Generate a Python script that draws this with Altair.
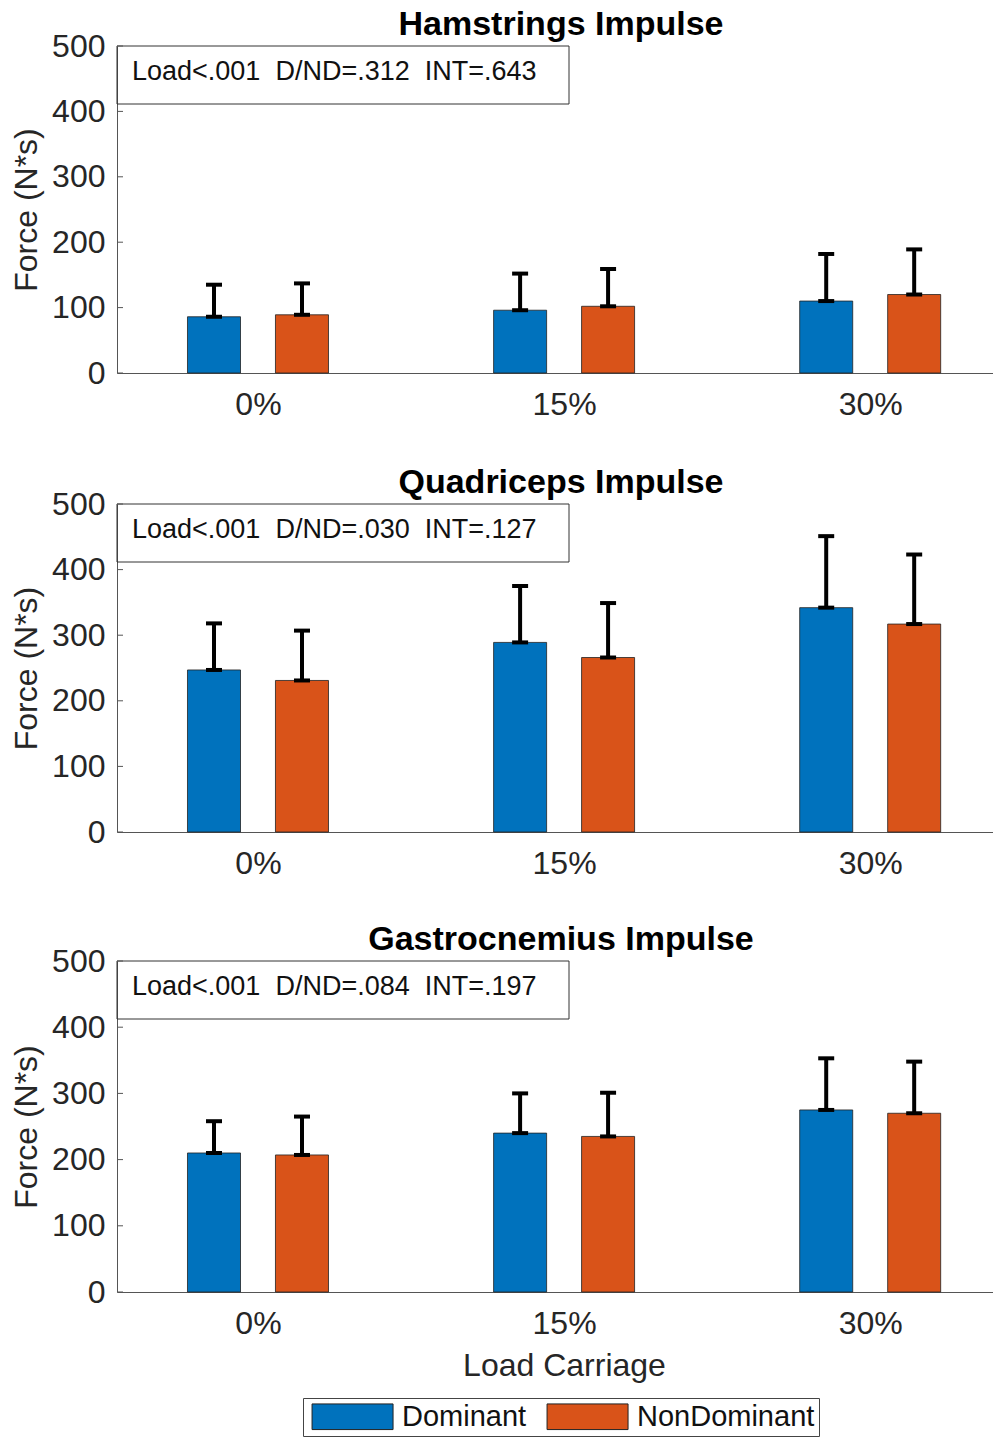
import altair as alt
import pandas as pd

FONT = "Liberation Sans"
NB = "\u00a0"

LOADS = ["0%", "15%", "30%"]
SIDES = ["Dominant", "NonDominant"]
COLORS = ["#0072BD", "#D95319"]
TITLES = ["Hamstrings Impulse", "Quadriceps Impulse", "Gastrocnemius Impulse"]
STATS = [
    f"Load<.001{NB} D/ND=.312{NB} INT=.643",
    f"Load<.001{NB} D/ND=.030{NB} INT=.127",
    f"Load<.001{NB} D/ND=.084{NB} INT=.197",
]
Y_TICKS = [0, 100, 200, 300, 400, 500]

# Hamstrings
ham_dom = [86, 96, 110]
ham_dom_sd = [49, 56, 72]
ham_nd = [89, 102, 120]
ham_nd_sd = [48, 57, 69]
# Quadriceps
quad_dom = [247, 289, 342]
quad_dom_sd = [71, 86, 109]
quad_nd = [231, 266, 317]
quad_nd_sd = [76, 83, 106]
# Gastrocnemius
gas_dom = [210, 240, 275]
gas_dom_sd = [48, 60, 78]
gas_nd = [207, 235, 270]
gas_nd_sd = [58, 66, 78]


def panel_df(dom, dom_sd, nd, nd_sd):
    rows = []
    for i, load in enumerate(LOADS):
        rows.append({"g": i + 1, "load": load, "side": SIDES[0], "mean": dom[i], "sd": dom_sd[i]})
        rows.append({"g": i + 1, "load": load, "side": SIDES[1], "mean": nd[i], "sd": nd_sd[i]})
    return pd.DataFrame(rows)


PANELS = [
    panel_df(ham_dom, ham_dom_sd, ham_nd, ham_nd_sd),
    panel_df(quad_dom, quad_dom_sd, quad_nd, quad_nd_sd),
    panel_df(gas_dom, gas_dom_sd, gas_nd, gas_nd_sd),
]

xs = alt.Scale(domain=[0.5394, 3.4012], nice=False, zero=False)
ys = alt.Scale(domain=[0, 500], nice=False, zero=True)

label_expr = " : ".join(
    [f"datum.value == {i + 1} ? '{lab}'" for i, lab in enumerate(LOADS[:-1])] + [f"'{LOADS[-1]}'"]
)

W = 876
HEIGHTS = [327, 328, 331]


def make_panel(k, df, last):
    base = alt.Chart(df).transform_calculate(
        xc=f"datum.g + (datum.side == '{SIDES[0]}' ? -0.1437 : 0.1437)"
    ).transform_calculate(
        xl="datum.xc - 0.0866", xr="datum.xc + 0.0866", top="datum.mean + datum.sd", zero="0"
    )

    xaxis_kw = dict(values=[1, 2, 3], labelExpr=label_expr, grid=False, ticks=False,
                    labelFontSize=32, labelPadding=16, labelFlush=False, labelOverlap=False,
                    domainColor="#555", labelColor="#262626", labelFont=FONT)
    if last:
        xaxis_kw.update(titleFontSize=32, titleFontWeight="normal", titleX=447,
                        titlePadding=11, titleColor="#262626", titleFont=FONT)
    xaxis = alt.Axis(**xaxis_kw)
    xtitle = "Load Carriage" if last else ""

    yaxis = alt.Axis(values=Y_TICKS, grid=False, ticks=False, labelFontSize=32, labelPadding=12,
                     titleFontSize=32, titleFontWeight="normal", titlePadding=8,
                     domainColor="#555", labelColor="#262626", titleColor="#262626",
                     labelFont=FONT, titleFont=FONT, labelOverlap=False)
    ytitle = "Force (N*s)"

    def X(f):
        return alt.X(f, scale=xs, axis=xaxis, title=xtitle)

    def Y(f):
        return alt.Y(f, scale=ys, axis=yaxis, title=ytitle)

    if last:
        legend = alt.Legend(
            title=None, orient="none", legendX=186, legendY=437, direction="horizontal",
            symbolType="M-0.7,-0.95L5.3,-0.95L5.3,0.95L-0.7,0.95Z", symbolSize=729,
            symbolStrokeColor="#222", symbolStrokeWidth=1, symbolOpacity=1, labelOffset=66,
            labelFontSize=29, labelFont=FONT, labelColor="#111", labelLimit=0, columnPadding=15,
            padding=4, strokeColor="#444", fillColor="white",
        )
        color = alt.Color("side:N", scale=alt.Scale(domain=SIDES, range=COLORS), legend=legend)
    else:
        color = alt.Color("side:N", scale=alt.Scale(domain=SIDES, range=COLORS), legend=None)

    bars = base.mark_rect(stroke="#222", strokeWidth=0.8).encode(
        x=X("xl:Q"), x2="xr:Q", y=Y("mean:Q"), y2="zero:Q", color=color,
    )
    err = base.mark_rule(color="black", strokeWidth=4).encode(
        x=X("xc:Q"), y=Y("mean:Q"), y2="top:Q",
    )
    cap_top = base.mark_tick(orient="horizontal", size=16, thickness=4, color="black", opacity=1).encode(
        x=X("xc:Q"), y=Y("top:Q"),
    )
    cap_bot = base.mark_tick(orient="horizontal", size=16, thickness=4, color="black", opacity=1).encode(
        x=X("xc:Q"), y=Y("mean:Q"),
    )
    stat_df = pd.DataFrame({"stat": [STATS[k]]})
    box = alt.Chart(stat_df).mark_rect(fillOpacity=0, stroke="#333", strokeWidth=1).encode(
        x=alt.value(0), x2=alt.value(452), y=alt.value(0), y2=alt.value(58)
    )
    txt = alt.Chart(stat_df).mark_text(align="left", baseline="middle", fontSize=27, font=FONT,
                                       color="#111").encode(
        x=alt.value(15), y=alt.value(26), text="stat:N"
    )
    tick_df = pd.DataFrame({"t": Y_TICKS})
    ticks = alt.Chart(tick_df).mark_rule(color="#555", strokeWidth=1).encode(
        y=Y("t:Q"), x=alt.value(0), x2=alt.value(6)
    )
    return alt.layer(bars, err, cap_top, cap_bot, box, txt, ticks).properties(
        width=W, height=HEIGHTS[k],
        title=alt.TitleParams(TITLES[k], fontSize=34, fontWeight="bold", font=FONT, color="black",
                              dx=6, dy=-2, offset=-14, anchor="middle"),
    )


p1, p2, p3 = [make_panel(k, PANELS[k], k == 2) for k in range(3)]
top_two = alt.vconcat(p1, p2, spacing=46)

chart = alt.vconcat(top_two, p3, spacing=44).resolve_legend(color="independent").properties(
    padding={"left": 2, "top": 0, "right": 0, "bottom": 0}
).configure(font=FONT).configure_view(stroke=None)

chart.save("out.html", embed_options={"renderer": "svg", "actions": False})
